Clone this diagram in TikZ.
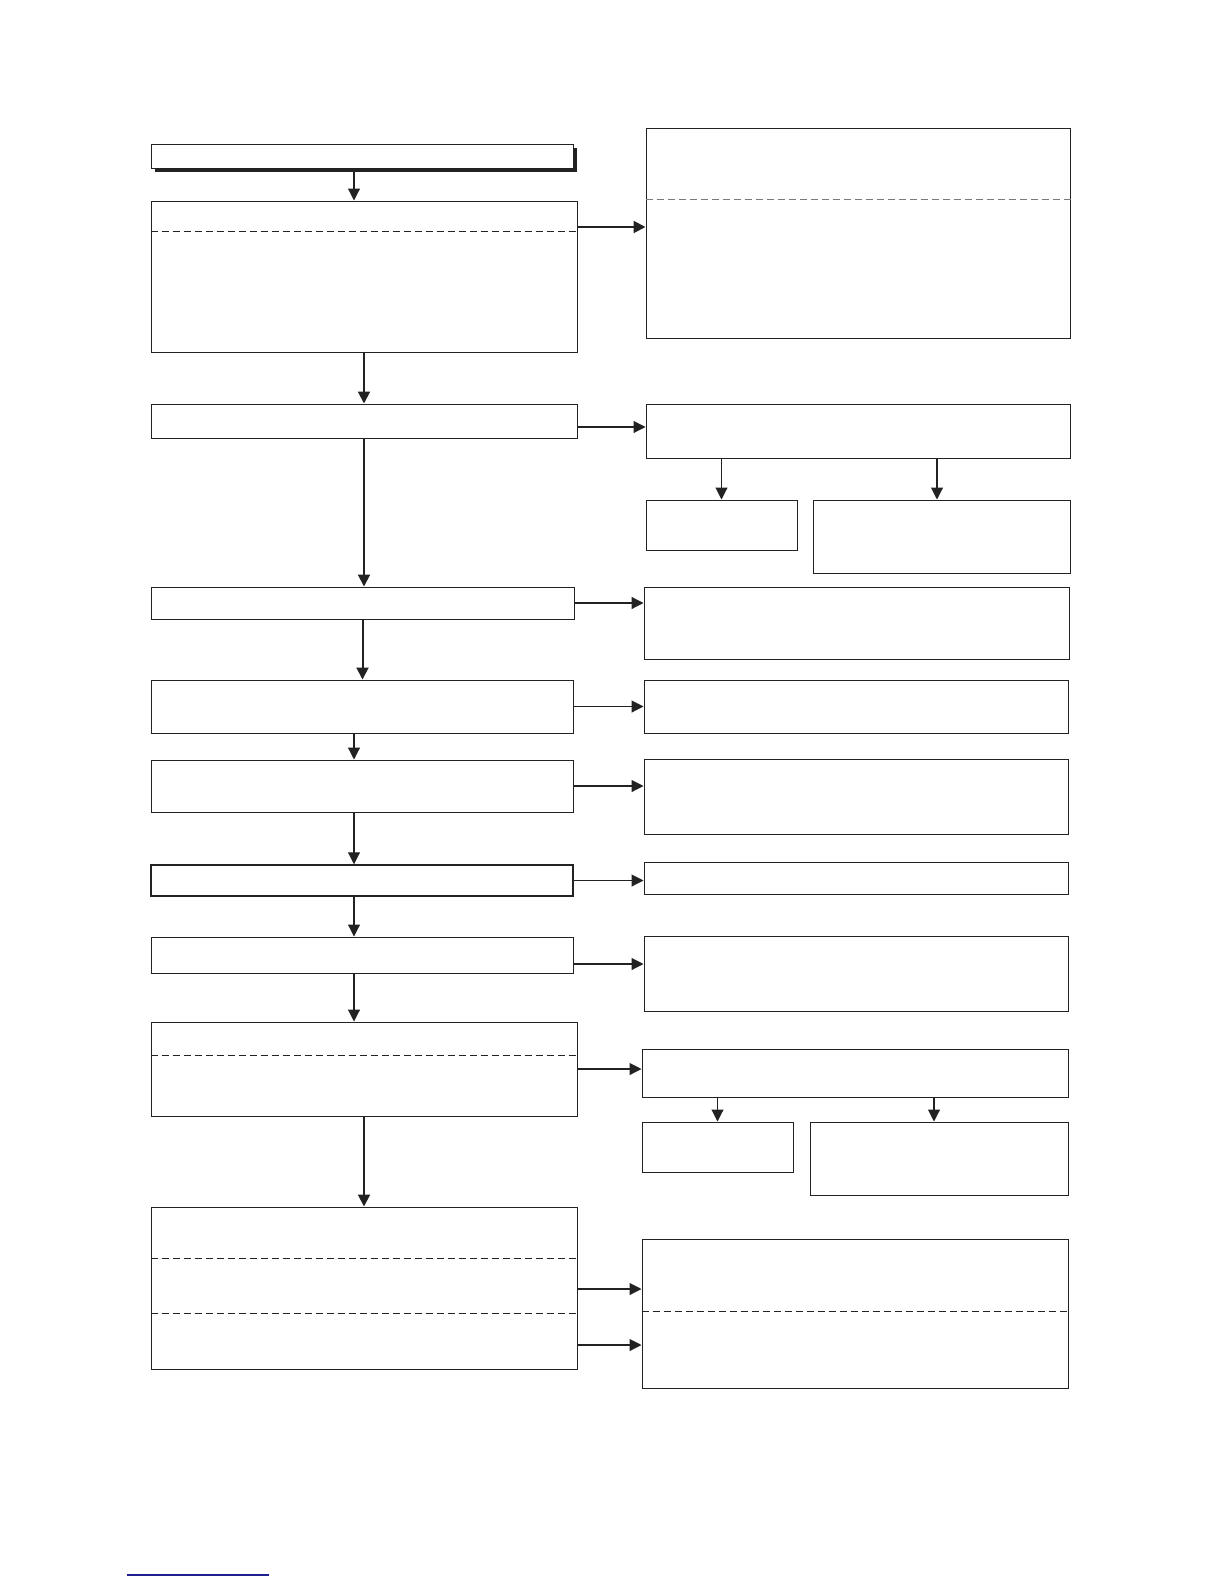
\documentclass[tikz,border=0pt]{standalone}
\usetikzlibrary{arrows.meta,shadows}

\definecolor{ink}{HTML}{222222}
\definecolor{linkblue}{HTML}{1F1F8F}

\tikzset{
  box/.style={draw=ink, fill=white, line width=1pt, rectangle, inner sep=0pt},
  flow/.style={draw=ink, line width=1.1pt, -{Triangle[length=12pt,width=12pt]}},
  mainflow/.style={draw=ink, line width=2pt, -{Triangle[length=12pt,width=12pt]}},
  divider/.style={draw=ink, line width=0.9pt, dash pattern=on 7pt off 4pt},
}

\begin{document}
\begin{tikzpicture}[x=1pt, y=-1pt]
  \useasboundingbox[fill=white] (0,0) rectangle (1224,1584);

  % left column
  \node[box, minimum width=422pt, minimum height=24pt,
        drop shadow={shadow xshift=4pt, shadow yshift=-4pt, fill=ink, opacity=1}] (b0) at (362,156) {};
  \node[box, minimum width=426pt, minimum height=151pt] (b1) at (364,276.5) {};
  \node[box, minimum width=426pt, minimum height=34pt] (b3) at (364,421) {};
  \node[box, minimum width=423pt, minimum height=32pt] (b4) at (362.5,603) {};
  \node[box, minimum width=422pt, minimum height=53pt] (b5) at (362,706.5) {};
  \node[box, minimum width=422pt, minimum height=52pt] (b6) at (362,786) {};
  \node[box, minimum width=422pt, minimum height=31pt, line width=1.5pt] (b7) at (362,880.5) {};
  \node[box, minimum width=422pt, minimum height=36pt] (b8) at (362,955) {};
  \node[box, minimum width=426pt, minimum height=94pt] (b9) at (364,1069) {};
  \node[box, minimum width=426pt, minimum height=162pt] (b10) at (364,1288) {};

  % right column
  \node[box, minimum width=424pt, minimum height=209pt] (r1) at (858,233.5) {};
  \node[box, minimum width=424pt, minimum height=54pt] (r2) at (858,431) {};
  \node[box, minimum width=151pt, minimum height=50pt] (r2a) at (721.5,525) {};
  \node[box, minimum width=257pt, minimum height=73pt] (r2b) at (941.5,536.5) {};
  \node[box, minimum width=425pt, minimum height=72pt] (r3) at (856.5,623) {};
  \node[box, minimum width=424pt, minimum height=53pt] (r4) at (856,706.5) {};
  \node[box, minimum width=424pt, minimum height=75pt] (r5) at (856,796.5) {};
  \node[box, minimum width=424pt, minimum height=32pt] (r6) at (856,878) {};
  \node[box, minimum width=424pt, minimum height=75pt] (r7) at (856,973.5) {};
  \node[box, minimum width=426pt, minimum height=48pt] (r8) at (855,1073) {};
  \node[box, minimum width=151pt, minimum height=50pt] (r8a) at (717.5,1147) {};
  \node[box, minimum width=258pt, minimum height=73pt] (r8b) at (939,1158.5) {};
  \node[box, minimum width=426pt, minimum height=149pt] (r9) at (855,1313.5) {};

  % dashed dividers
  \draw[divider] ([yshift=-31pt]b1.north west) -- ([yshift=-31pt]b1.north east);
  \draw[divider, draw=ink!60, line width=1.6pt] ([yshift=-71pt]r1.north west) -- ([yshift=-71pt]r1.north east);
  \draw[divider] ([yshift=-34pt]b9.north west) -- ([yshift=-34pt]b9.north east);
  \draw[divider] ([yshift=-52pt]b10.north west) -- ([yshift=-52pt]b10.north east);
  \draw[divider] ([yshift=-107pt]b10.north west) -- ([yshift=-107pt]b10.north east);
  \draw[divider] ([yshift=-73pt]r9.north west) -- ([yshift=-73pt]r9.north east);

  % main flow
  \draw[flow] ([xshift=-8pt]b0.south) -- ([xshift=-8pt]b0.south |- b1.north);
  \draw[mainflow] (b1.south) -- (b3.north);
  \draw[mainflow] (b3.south) -- (b3.south |- b4.north);
  \draw[mainflow] (b4.south) -- (b4.south |- b5.north);
  \draw[flow] ([xshift=-8pt]b5.south) -- ([xshift=-8pt]b5.south |- b6.north);
  \draw[flow] ([xshift=-8pt]b6.south) -- ([xshift=-8pt]b6.south |- b7.north);
  \draw[flow] ([xshift=-8pt]b7.south) -- ([xshift=-8pt]b7.south |- b8.north);
  \draw[flow] ([xshift=-8pt]b8.south) -- ([xshift=-8pt]b8.south |- b9.north);
  \draw[mainflow] (b9.south) -- (b10.north);

  % side branches
  \coordinate (r1in) at ([yshift=6.5pt]r1.west);
  \coordinate (r2in) at ([yshift=4pt]r2.west);
  \coordinate (r7in) at ([yshift=9.5pt]r7.west);
  \coordinate (r9in) at ([yshift=24.5pt]r9.west);
  \coordinate (r9in2) at ([yshift=-31.5pt]r9.west);
  \draw[mainflow] (r1in -| b1.east) -- (r1in);
  \draw[flow] (r2in -| b3.east) -- (r2in);
  \draw[flow] (b4.east) -- (b4.east -| r3.west);
  \draw[flow] (b5.east) -- (b5.east -| r4.west);
  \draw[flow] (b6.east) -- (b6.east -| r5.west);
  \draw[flow] (b7.east) -- (b7.east -| r6.west);
  \draw[flow] (r7in -| b8.east) -- (r7in);
  \draw[flow] (b9.east) -- (b9.east -| r8.west);
  \draw[flow] (r9in -| b10.east) -- (r9in);
  \draw[flow] (r9in2 -| b10.east) -- (r9in2);

  % sub branches
  \draw[flow] (r2.south -| r2a.north) -- (r2a.north);
  \draw[flow] ([xshift=-4.5pt]r2b.north |- r2.south) -- ([xshift=-4.5pt]r2b.north);
  \draw[flow] (r8.south -| r8a.north) -- (r8a.north);
  \draw[flow] ([xshift=-5pt]r8b.north |- r8.south) -- ([xshift=-5pt]r8b.north);

  % underline at the foot
  \draw[linkblue, line width=1.6pt] (127,1575) -- (269,1575);
\end{tikzpicture}
\end{document}
